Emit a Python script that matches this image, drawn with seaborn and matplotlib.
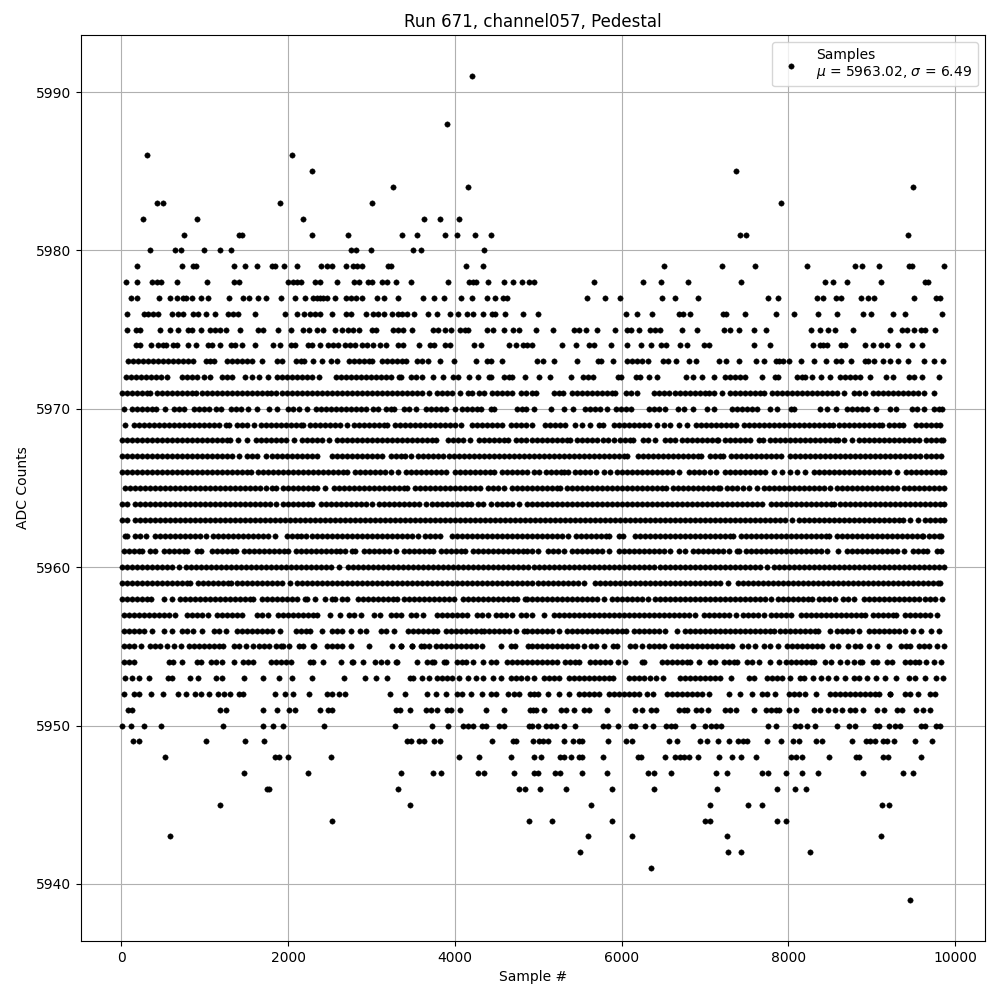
import pandas as pd
import matplotlib
matplotlib.use("Agg")
import matplotlib.pyplot as plt
import seaborn as sns

# sample numbers, one list per ADC count
s5991 = [4208]
s5988 = [3908]
s5986 = [308, 2048]
s5985 = [2288, 7368]
s5984 = [3260, 4160, 9492]
s5983 = [428, 500, 1904, 3008, 7908]
s5982 = [260, 908, 2180, 3632, 3824, 4052]
s5981 = [752, 1412, 1444, 2288, 2720, 3368, 3548, 3884, 4028, 4244, 4436, 7424, 7492, 9432]
s5980 = [344, 644, 720, 992, 1184, 1316, 2756, 2816, 2996, 3500, 3596, 4352]
s5979 = [188, 728, 860, 900, 1352, 1484, 1628, 1800, 1840, 1952, 2108, 2392, 2460, 2520, 2696, 2780, 2828, 2880,
         3200, 3228, 4136, 4340, 6504, 7200, 7596, 8220, 8796, 8880, 9084, 9444, 9484, 9864]
s5978 = [60, 188, 364, 428, 480, 668, 1028, 1352, 1412, 2000, 2060, 2100, 2156, 2320, 2380, 2588, 2792, 2852, 2960,
         3000, 3120, 3188, 3296, 3476, 3920, 4172, 4220, 4252, 4400, 4592, 4700, 4808, 4892, 4952, 5664, 6252, 6468,
         6792, 7428, 8436, 8532, 8700, 9108, 9640, 9676]
s5977 = [120, 188, 452, 584, 668, 740, 772, 848, 960, 1040, 1292, 1460, 1532, 1640, 1736, 1916, 2084, 2200, 2300,
         2340, 2380, 2420, 2460, 2564, 2688, 2748, 2812, 2888, 3060, 3148, 3312, 3620, 3752, 3872, 4076, 4208, 4388,
         4484, 4580, 4628, 5580, 5796, 5976, 6480, 6636, 6912, 7752, 7872, 8340, 8412, 8564, 8632, 8868, 8956, 9024,
         9504, 9768, 9816]
s5976 = [68, 272, 320, 380, 440, 612, 680, 740, 860, 920, 1016, 1124, 1280, 1340, 1400, 1600, 1960, 2100, 2188, 2260,
         2320, 2380, 2528, 2688, 2756, 2936, 3020, 3080, 3148, 3240, 3312, 3360, 3420, 3512, 3680, 3788, 3944, 4040,
         4140, 4216, 4332, 4440, 4480, 4604, 4820, 4992, 6048, 6180, 6360, 6692, 6732, 6816, 7212, 7252, 7476, 7848,
         8064, 8348, 8580, 8892, 8988, 9252, 9400, 9840]
s5975 = [68, 180, 220, 460, 580, 680, 800, 852, 956, 1060, 1120, 1180, 1260, 1424, 1640, 1700, 1880, 2036, 2180, 2252,
         2348, 2420, 2560, 2640, 2720, 2780, 2852, 3000, 3048, 3260, 3320, 3380, 3488, 3732, 3800, 3880, 3952, 4060,
         4120, 4160, 4380, 4460, 4592, 4700, 4772, 4968, 5172, 5432, 5492, 5572, 5700, 5916, 6060, 6112, 6212, 6340,
         6404, 6460, 6720, 6900, 7232, 7304, 7404, 7584, 7728, 8268, 8376, 8472, 8552, 8772, 9216, 9364, 9420, 9504,
         9592, 9640, 9756]
s5974 = [172, 228, 356, 440, 500, 540, 620, 668, 800, 900, 1040, 1092, 1184, 1320, 1360, 1452, 1604, 1820, 1904, 2028,
         2080, 2240, 2280, 2384, 2480, 2540, 2600, 2680, 2740, 2800, 2880, 2940, 3020, 3100, 3168, 3320, 3372, 3572,
         3700, 3752, 3880, 3940, 4232, 4316, 4652, 4736, 4820, 4868, 4920, 5280, 5448, 5612, 5664, 5868, 6060, 6228,
         6348, 6468, 6528, 6696, 6780, 6984, 7044, 7584, 7784, 8292, 8372, 8412, 8460, 8632, 8672, 8916, 9012, 9108,
         9180, 9312, 9480, 9600]
s5973 = [80, 140, 200, 260, 320, 380, 440, 500, 560, 620, 680, 740, 800, 860, 1010, 1060, 1110, 1270, 1330, 1390, 1450,
         1510, 1570, 1680, 1860, 1920, 2090, 2150, 2190, 2300, 2400, 2510, 2590, 2730, 2790, 2850, 2910, 2970, 3010,
         3130, 3190, 3250, 3310, 3370, 3410, 3550, 3600, 3680, 3820, 3992, 4256, 4380, 4428, 4568, 4980, 5052, 5184,
         5460, 5712, 5752, 5892, 6060, 6120, 6180, 6240, 6320, 6492, 6552, 6648, 6804, 6892, 7164, 7252, 7412, 7612,
         7712, 7852, 7892, 7932, 8012, 8148, 8312, 8448, 8564, 8632, 8748, 8912, 8952, 9024, 9132, 9212, 9312, 9432,
         9628, 9744, 9852]
s5972 = [50, 110, 170, 230, 290, 350, 410, 470, 550, 730, 790, 850, 910, 990, 1068, 1210, 1270, 1330, 1480, 1560, 1652,
         1760, 1870, 1930, 1990, 2050, 2110, 2170, 2230, 2290, 2370, 2570, 2630, 2690, 2750, 2810, 2870, 2930, 2990,
         3050, 3110, 3170, 3230, 3330, 3350, 3470, 3530, 3610, 3732, 3856, 3980, 4040, 4172, 4272, 4410, 4430, 4590,
         4650, 4690, 4840, 5012, 5136, 5388, 5540, 5600, 5660, 5952, 5992, 6172, 6220, 6324, 6424, 6772, 6852, 6960,
         7104, 7240, 7300, 7360, 7420, 7480, 7680, 7840, 7880, 8100, 8160, 8200, 8284, 8392, 8496, 8620, 8680, 8740,
         8800, 8860, 8972, 9168, 9252, 9440, 9500, 9600, 9804]
s5971 = [10, 70, 130, 190, 250, 310, 340, 430, 490, 550, 610, 670, 730, 790, 850, 890, 970, 1030, 1090, 1150, 1210,
         1270, 1330, 1390, 1450, 1510, 1570, 1630, 1690, 1750, 1790, 1848, 1930, 1990, 2050, 2110, 2170, 2230, 2290,
         2350, 2410, 2470, 2530, 2590, 2650, 2710, 2770, 2830, 2890, 2950, 3010, 3070, 3130, 3190, 3250, 3310, 3370,
         3430, 3490, 3550, 3610, 3690, 3790, 3850, 3910, 3970, 4060, 4160, 4210, 4290, 4350, 4440, 4510, 4570, 4630,
         4690, 4790, 4850, 4920, 4974, 5182, 5242, 5294, 5402, 5462, 5522, 5582, 5642, 5702, 5762, 5822, 5882, 5922,
         6054, 6114, 6182, 6386, 6446, 6506, 6562, 6642, 6702, 6762, 6822, 6882, 6942, 7002, 7042, 7104, 7204, 7294,
         7354, 7414, 7474, 7534, 7594, 7654, 7702, 7802, 7862, 7922, 7982, 8042, 8102, 8162, 8222, 8282, 8342, 8402,
         8462, 8522, 8582, 8662, 8782, 8842, 8922, 9010, 9070, 9130, 9190, 9250, 9310, 9370, 9430, 9490, 9550, 9622,
         9744]
s5970 = [28, 122, 182, 242, 302, 362, 410, 520, 630, 690, 750, 870, 930, 990, 1050, 1140, 1200, 1310, 1370, 1430, 1520,
         1628, 1768, 1860, 2002, 2062, 2130, 2228, 2330, 2390, 2450, 2510, 2570, 2630, 2690, 2750, 2810, 2870, 2930,
         3020, 3080, 3170, 3230, 3270, 3390, 3450, 3530, 3650, 3710, 3770, 3830, 3890, 4004, 4090, 4150, 4210, 4270,
         4310, 4430, 4470, 4742, 4802, 4850, 4944, 5148, 5312, 5412, 5562, 5622, 5682, 5742, 5822, 5930, 5990, 6050,
         6110, 6322, 6382, 6442, 6522, 6672, 6752, 6852, 7022, 7102, 7322, 7382, 7442, 7502, 7562, 7622, 7774, 7862,
         8034, 8062, 8382, 8462, 8572, 8702, 8762, 8822, 8882, 8942, 9052, 9212, 9292, 9482, 9542, 9622, 9742, 9802,
         9842]
s5969 = [48, 150, 210, 270, 330, 390, 450, 510, 570, 630, 690, 750, 810, 870, 930, 990, 1050, 1110, 1170, 1250, 1290,
         1390, 1450, 1510, 1590, 1670, 1730, 1790, 1850, 1910, 1970, 2030, 2090, 2150, 2182, 2258, 2318, 2378, 2438,
         2498, 2558, 2618, 2710, 2790, 2850, 2910, 2970, 3030, 3090, 3150, 3190, 3282, 3342, 3402, 3462, 3522, 3582,
         3642, 3702, 3762, 3822, 3882, 3942, 4002, 4078, 4202, 4262, 4322, 4382, 4442, 4502, 4570, 4670, 4730, 4790,
         4850, 4922, 5074, 5134, 5194, 5254, 5322, 5442, 5522, 5620, 5722, 5774, 5902, 5962, 6022, 6082, 6142, 6202,
         6262, 6322, 6422, 6502, 6582, 6682, 6782, 6890, 6950, 7010, 7070, 7130, 7190, 7250, 7310, 7374, 7462, 7522,
         7582, 7642, 7702, 7762, 7822, 7882, 7942, 8002, 8062, 8122, 8182, 8242, 8302, 8362, 8422, 8482, 8534, 8610,
         8670, 8730, 8790, 8850, 8910, 8970, 9030, 9090, 9122, 9202, 9262, 9322, 9374, 9530, 9590, 9650, 9710, 9770,
         9822]
s5968 = [10, 70, 130, 190, 250, 310, 370, 430, 490, 550, 610, 662, 730, 790, 850, 910, 970, 1030, 1090, 1150, 1210,
         1270, 1302, 1402, 1510, 1618, 1678, 1738, 1798, 1858, 1918, 1978, 2070, 2162, 2222, 2282, 2342, 2402, 2490,
         2590, 2650, 2710, 2770, 2830, 2890, 2950, 3010, 3070, 3130, 3190, 3250, 3310, 3370, 3430, 3490, 3550, 3610,
         3670, 3730, 3778, 3922, 3982, 4042, 4102, 4182, 4290, 4350, 4410, 4470, 4530, 4590, 4638, 4730, 4790, 4850,
         4922, 4982, 5042, 5102, 5162, 5222, 5282, 5342, 5382, 5462, 5522, 5582, 5642, 5702, 5774, 5834, 5902, 5982,
         6042, 6102, 6134, 6254, 6310, 6404, 6514, 6574, 6634, 6722, 6782, 6842, 6902, 6962, 7022, 7082, 7142, 7158,
         7234, 7294, 7354, 7414, 7474, 7534, 7650, 7690, 7782, 7842, 7902, 7962, 8022, 8082, 8142, 8202, 8262, 8322,
         8382, 8442, 8502, 8562, 8590, 8670, 8762, 8850, 8910, 8970, 9030, 9090, 9150, 9210, 9270, 9330, 9390, 9450,
         9510, 9566, 9654, 9714, 9774, 9834, 9854]
s5967 = [10, 70, 130, 190, 250, 310, 370, 430, 490, 550, 610, 670, 730, 790, 850, 910, 970, 1030, 1090, 1150, 1210,
         1270, 1330, 1410, 1510, 1570, 1630, 1730, 1810, 1870, 1930, 1990, 2050, 2110, 2170, 2230, 2290, 2350, 2522,
         2582, 2642, 2702, 2762, 2822, 2882, 2942, 3002, 3062, 3130, 3230, 3290, 3350, 3398, 3468, 3562, 3622, 3682,
         3742, 3802, 3854, 3930, 3990, 4050, 4110, 4170, 4230, 4290, 4350, 4410, 4470, 4530, 4590, 4650, 4710, 4770,
         4830, 4890, 4950, 5010, 5070, 5130, 5190, 5250, 5310, 5370, 5430, 5490, 5550, 5610, 5670, 5730, 5790, 5850,
         5910, 5970, 6030, 6062, 6194, 6254, 6314, 6374, 6434, 6494, 6554, 6614, 6674, 6734, 6794, 6854, 6914, 6950,
         7062, 7122, 7182, 7214, 7314, 7374, 7434, 7494, 7554, 7614, 7674, 7734, 7794, 7854, 7910, 8022, 8082, 8142,
         8202, 8262, 8322, 8382, 8442, 8502, 8562, 8622, 8682, 8742, 8802, 8862, 8922, 8982, 9042, 9102, 9162, 9222,
         9282, 9342, 9402, 9462, 9522, 9574, 9654, 9714, 9774, 9830]
s5966 = [10, 70, 130, 190, 250, 310, 370, 430, 490, 550, 610, 670, 730, 790, 850, 910, 970, 1030, 1090, 1150, 1210,
         1270, 1330, 1390, 1450, 1510, 1550, 1642, 1702, 1762, 1822, 1882, 1942, 2002, 2062, 2122, 2182, 2242, 2302,
         2362, 2422, 2482, 2542, 2602, 2662, 2710, 2798, 2858, 2918, 2978, 3038, 3098, 3158, 3238, 3320, 3410, 3470,
         3530, 3590, 3650, 3710, 3770, 3830, 3894, 3998, 4058, 4118, 4178, 4238, 4298, 4358, 4418, 4470, 4562, 4622,
         4682, 4742, 4802, 4862, 4942, 5002, 5090, 5150, 5210, 5270, 5302, 5360, 5442, 5502, 5562, 5622, 5690, 5782,
         5862, 5942, 6002, 6062, 6122, 6182, 6242, 6302, 6362, 6422, 6482, 6542, 6602, 6682, 6810, 6870, 6930, 6982,
         7060, 7132, 7242, 7302, 7362, 7422, 7482, 7542, 7602, 7662, 7722, 7822, 7922, 8022, 8100, 8196, 8302, 8362,
         8422, 8482, 8542, 8602, 8662, 8722, 8782, 8842, 8902, 8962, 9022, 9082, 9142, 9202, 9302, 9410, 9470, 9530,
         9590, 9650, 9710, 9770, 9830, 9862]
s5965 = [42, 102, 162, 222, 282, 342, 402, 462, 522, 582, 642, 702, 762, 822, 882, 942, 1002, 1062, 1122, 1182, 1242,
         1302, 1362, 1422, 1482, 1542, 1602, 1662, 1730, 1800, 1852, 1938, 1998, 2058, 2118, 2178, 2238, 2298, 2350,
         2440, 2550, 2610, 2670, 2730, 2790, 2850, 2910, 2970, 3030, 3090, 3150, 3210, 3270, 3330, 3390, 3430, 3522,
         3582, 3642, 3702, 3762, 3822, 3882, 3942, 4002, 4062, 4122, 4182, 4242, 4302, 4402, 4462, 4522, 4590, 4690,
         4750, 4810, 4870, 4922, 4982, 5042, 5102, 5162, 5222, 5262, 5342, 5402, 5462, 5522, 5582, 5642, 5702, 5762,
         5822, 5882, 5942, 6002, 6062, 6122, 6182, 6242, 6302, 6362, 6422, 6482, 6530, 6610, 6670, 6730, 6790, 6850,
         6910, 6970, 7030, 7090, 7150, 7182, 7262, 7322, 7382, 7454, 7530, 7622, 7702, 7762, 7822, 7882, 7942, 8002,
         8062, 8122, 8182, 8242, 8302, 8362, 8422, 8494, 8582, 8642, 8702, 8762, 8822, 8882, 8942, 9002, 9062, 9122,
         9182, 9242, 9302, 9390, 9450, 9510, 9570, 9630, 9690, 9750, 9810, 9862]
s5964 = [10, 70, 162, 222, 282, 342, 402, 462, 522, 582, 642, 702, 762, 822, 882, 942, 1002, 1062, 1122, 1182, 1242,
         1302, 1362, 1422, 1482, 1542, 1602, 1662, 1722, 1782, 1850, 1938, 1998, 2058, 2118, 2178, 2238, 2290, 2390,
         2450, 2510, 2570, 2630, 2690, 2750, 2810, 2870, 2930, 3000, 3090, 3150, 3210, 3270, 3330, 3390, 3450, 3510,
         3570, 3650, 3730, 3790, 3850, 3910, 3970, 4030, 4090, 4150, 4198, 4282, 4342, 4430, 4510, 4570, 4630, 4690,
         4770, 4870, 4922, 4982, 5042, 5102, 5162, 5222, 5282, 5342, 5402, 5462, 5522, 5582, 5642, 5702, 5762, 5822,
         5882, 5942, 6002, 6062, 6122, 6182, 6242, 6302, 6362, 6422, 6482, 6542, 6602, 6662, 6722, 6782, 6842, 6902,
         6962, 7022, 7082, 7142, 7202, 7262, 7322, 7382, 7442, 7502, 7562, 7622, 7682, 7794, 7854, 7914, 7974, 8034,
         8094, 8154, 8214, 8274, 8334, 8394, 8454, 8514, 8550, 8622, 8682, 8742, 8802, 8862, 8922, 8982, 9042, 9102,
         9162, 9222, 9282, 9342, 9402, 9462, 9522, 9582, 9642, 9702, 9762, 9822, 9862]
s5963 = [10, 70, 162, 222, 282, 342, 402, 462, 522, 582, 642, 702, 762, 822, 882, 942, 1002, 1062, 1122, 1182, 1242,
         1302, 1362, 1422, 1482, 1542, 1602, 1662, 1722, 1782, 1842, 1902, 1962, 2022, 2082, 2142, 2202, 2262, 2322,
         2382, 2442, 2502, 2562, 2622, 2682, 2742, 2802, 2862, 2922, 2982, 3042, 3102, 3162, 3222, 3282, 3342, 3402,
         3462, 3522, 3582, 3642, 3702, 3762, 3822, 3882, 3942, 4002, 4062, 4122, 4182, 4242, 4302, 4362, 4422, 4482,
         4542, 4602, 4662, 4722, 4782, 4842, 4902, 4962, 5022, 5082, 5142, 5202, 5262, 5322, 5382, 5442, 5502, 5562,
         5622, 5682, 5742, 5802, 5862, 5922, 5982, 6042, 6102, 6162, 6222, 6282, 6342, 6402, 6462, 6522, 6582, 6642,
         6702, 6762, 6822, 6882, 6942, 7002, 7062, 7122, 7182, 7242, 7302, 7362, 7422, 7482, 7542, 7602, 7662, 7722,
         7782, 7842, 7902, 7962, 8042, 8122, 8182, 8242, 8302, 8362, 8422, 8482, 8542, 8602, 8662, 8722, 8782, 8842,
         8902, 8962, 9022, 9082, 9142, 9202, 9262, 9322, 9370, 9462, 9550, 9634, 9694, 9754, 9814, 9862]
s5962 = [42, 70, 162, 222, 298, 398, 458, 518, 578, 638, 698, 758, 818, 878, 938, 1018, 1102, 1162, 1222, 1282, 1342,
         1402, 1462, 1522, 1582, 1642, 1702, 1762, 1842, 1982, 2042, 2102, 2150, 2212, 2282, 2342, 2402, 2462, 2522,
         2582, 2642, 2702, 2762, 2822, 2882, 2942, 3002, 3062, 3122, 3182, 3242, 3302, 3362, 3422, 3490, 3560, 3642,
         3702, 3762, 3822, 3970, 4030, 4090, 4150, 4210, 4270, 4330, 4390, 4450, 4510, 4570, 4630, 4690, 4750, 4810,
         4870, 4922, 4982, 5042, 5102, 5162, 5222, 5282, 5350, 5450, 5510, 5570, 5630, 5690, 5750, 5810, 5842, 5970,
         6014, 6162, 6222, 6282, 6342, 6402, 6462, 6522, 6582, 6642, 6702, 6762, 6822, 6882, 6942, 7002, 7062, 7122,
         7182, 7242, 7302, 7334, 7434, 7494, 7554, 7614, 7674, 7734, 7794, 7854, 7914, 7974, 8034, 8094, 8154, 8214,
         8274, 8334, 8394, 8454, 8482, 8582, 8642, 8702, 8762, 8822, 8882, 8942, 9002, 9062, 9122, 9182, 9242, 9302,
         9362, 9422, 9482, 9542, 9602, 9614, 9690, 9750, 9810, 9834]
s5961 = [30, 90, 150, 210, 250, 338, 402, 510, 570, 630, 690, 750, 790, 902, 958, 1090, 1150, 1210, 1270, 1330, 1380,
         1470, 1530, 1590, 1650, 1710, 1770, 1830, 1890, 1950, 1998, 2098, 2158, 2218, 2278, 2338, 2398, 2458, 2518,
         2578, 2622, 2684, 2762, 2798, 2910, 2970, 3030, 3090, 3150, 3210, 3298, 3390, 3450, 3510, 3570, 3630, 3690,
         3742, 3830, 3890, 3950, 4010, 4070, 4122, 4222, 4282, 4342, 4402, 4462, 4522, 4582, 4642, 4702, 4762, 4822,
         4870, 4922, 4990, 5114, 5174, 5234, 5302, 5402, 5462, 5522, 5582, 5642, 5702, 5762, 5842, 5970, 6030, 6090,
         6150, 6210, 6270, 6330, 6390, 6450, 6510, 6582, 6690, 6754, 6854, 6914, 6974, 7034, 7094, 7154, 7214, 7282,
         7382, 7402, 7490, 7550, 7610, 7670, 7730, 7790, 7850, 7910, 7970, 8030, 8090, 8150, 8210, 8270, 8330, 8390,
         8462, 8592, 8702, 8762, 8822, 8882, 8942, 9002, 9062, 9122, 9182, 9242, 9302, 9382, 9494, 9554, 9614, 9662,
         9782, 9834]
s5960 = [10, 70, 130, 190, 250, 310, 370, 430, 490, 550, 610, 690, 778, 838, 898, 958, 1018, 1078, 1138, 1198, 1258,
         1318, 1378, 1438, 1498, 1558, 1618, 1678, 1738, 1798, 1858, 1918, 1978, 2038, 2098, 2158, 2218, 2278, 2338,
         2398, 2458, 2518, 2610, 2722, 2782, 2842, 2902, 2962, 3022, 3082, 3142, 3202, 3262, 3322, 3382, 3442, 3502,
         3562, 3622, 3682, 3742, 3802, 3862, 3922, 3982, 4042, 4102, 4162, 4222, 4282, 4342, 4402, 4462, 4522, 4582,
         4642, 4702, 4762, 4822, 4882, 4942, 5002, 5062, 5122, 5182, 5242, 5302, 5362, 5422, 5482, 5542, 5602, 5662,
         5722, 5782, 5842, 5902, 5962, 6022, 6082, 6142, 6202, 6262, 6322, 6382, 6462, 6522, 6582, 6642, 6702, 6762,
         6822, 6882, 6942, 7002, 7062, 7122, 7182, 7242, 7302, 7362, 7422, 7482, 7542, 7602, 7662, 7742, 7830, 7890,
         7950, 8010, 8070, 8130, 8190, 8250, 8310, 8370, 8430, 8490, 8550, 8610, 8670, 8730, 8790, 8850, 8910, 8970,
         9030, 9090, 9150, 9210, 9270, 9330, 9390, 9450, 9510, 9570, 9630, 9690, 9750, 9810, 9862]
s5959 = [10, 70, 130, 190, 250, 310, 370, 430, 490, 550, 610, 670, 730, 790, 822, 922, 982, 1042, 1102, 1162, 1222,
         1282, 1318, 1390, 1450, 1510, 1570, 1630, 1690, 1750, 1810, 1870, 1930, 2022, 2110, 2170, 2230, 2290, 2350,
         2410, 2470, 2530, 2590, 2650, 2710, 2770, 2830, 2890, 2950, 3010, 3070, 3130, 3190, 3250, 3310, 3370, 3430,
         3490, 3550, 3610, 3670, 3730, 3790, 3850, 3910, 3970, 4030, 4090, 4150, 4210, 4270, 4330, 4390, 4450, 4510,
         4570, 4630, 4690, 4750, 4810, 4870, 4930, 4990, 5050, 5110, 5170, 5230, 5290, 5350, 5410, 5470, 5550, 5682,
         5742, 5802, 5862, 5922, 5982, 6042, 6102, 6162, 6222, 6282, 6342, 6402, 6462, 6522, 6582, 6642, 6702, 6762,
         6822, 6882, 6942, 7002, 7062, 7122, 7182, 7274, 7394, 7454, 7514, 7574, 7634, 7694, 7754, 7814, 7874, 7934,
         7994, 8054, 8114, 8174, 8234, 8294, 8354, 8414, 8474, 8534, 8594, 8654, 8714, 8774, 8834, 8894, 8954, 9014,
         9074, 9134, 9194, 9254, 9314, 9374, 9434, 9494, 9554, 9614, 9674, 9734, 9794, 9822]
s5958 = [10, 70, 130, 190, 250, 310, 350, 510, 610, 698, 758, 818, 878, 938, 998, 1058, 1118, 1178, 1238, 1298, 1358,
         1418, 1478, 1538, 1582, 1682, 1742, 1802, 1862, 1922, 1982, 2042, 2110, 2198, 2230, 2318, 2438, 2530, 2558,
         2650, 2710, 2838, 2898, 2958, 3018, 3078, 3138, 3198, 3258, 3310, 3390, 3450, 3510, 3570, 3630, 3690, 3750,
         3810, 3870, 3930, 3990, 4098, 4158, 4218, 4278, 4338, 4398, 4458, 4518, 4578, 4638, 4698, 4742, 4842, 4870,
         4922, 4982, 5042, 5102, 5162, 5222, 5282, 5342, 5402, 5462, 5522, 5582, 5642, 5702, 5790, 5882, 5942, 6002,
         6062, 6122, 6182, 6242, 6310, 6402, 6462, 6522, 6582, 6642, 6702, 6762, 6822, 6882, 6942, 7002, 7062, 7122,
         7182, 7242, 7302, 7362, 7422, 7482, 7542, 7602, 7662, 7722, 7790, 7874, 7934, 7994, 8054, 8114, 8174, 8234,
         8282, 8370, 8430, 8490, 8562, 8650, 8710, 8782, 8910, 8970, 9030, 9090, 9150, 9210, 9270, 9330, 9390, 9450,
         9510, 9566, 9642, 9702, 9762, 9842]
s5957 = [30, 90, 150, 210, 270, 330, 390, 450, 510, 570, 642, 790, 850, 910, 970, 1042, 1150, 1210, 1270, 1330, 1390,
         1442, 1622, 1682, 1758, 1882, 1942, 2002, 2062, 2122, 2182, 2242, 2302, 2350, 2500, 2620, 2730, 2790, 2870,
         3030, 3098, 3230, 3290, 3358, 3470, 3530, 3622, 3790, 3850, 3910, 3970, 4030, 4090, 4150, 4270, 4330, 4398,
         4490, 4550, 4610, 4690, 4790, 4850, 4922, 5062, 5190, 5250, 5310, 5370, 5430, 5490, 5550, 5610, 5670, 5730,
         5790, 5850, 5910, 5970, 6030, 6090, 6150, 6210, 6270, 6330, 6390, 6450, 6510, 6570, 6630, 6690, 6750, 6810,
         6882, 6990, 7050, 7110, 7170, 7230, 7290, 7374, 7454, 7514, 7574, 7634, 7702, 7794, 7854, 7914, 7974, 8030,
         8154, 8214, 8274, 8334, 8394, 8454, 8514, 8574, 8634, 8694, 8754, 8814, 8874, 8922, 9010, 9070, 9130, 9190,
         9250, 9294, 9402, 9462, 9522, 9582, 9642, 9702, 9782]
s5956 = [30, 90, 150, 210, 270, 370, 510, 610, 722, 782, 862, 972, 1110, 1170, 1250, 1390, 1450, 1510, 1570, 1630, 1690,
         1750, 1810, 1902, 2090, 2150, 2210, 2258, 2408, 2530, 2590, 2650, 2750, 2858, 2938, 3110, 3170, 3270, 3442,
         3502, 3562, 3622, 3682, 3742, 3790, 3890, 3950, 4010, 4070, 4130, 4190, 4250, 4310, 4350, 4410, 4470, 4530,
         4590, 4650, 4730, 4830, 4870, 4922, 4982, 5042, 5102, 5162, 5250, 5342, 5402, 5462, 5522, 5582, 5642, 5702,
         5762, 5822, 5882, 5942, 6002, 6054, 6142, 6202, 6262, 6322, 6382, 6442, 6522, 6662, 6762, 6822, 6882, 6942,
         7002, 7062, 7122, 7182, 7242, 7302, 7362, 7422, 7482, 7542, 7602, 7662, 7722, 7782, 7822, 7902, 7962, 8022,
         8082, 8142, 8202, 8262, 8322, 8354, 8492, 8582, 8642, 8702, 8762, 8850, 8962, 9022, 9082, 9142, 9202, 9262,
         9322, 9402, 9494, 9590, 9710, 9802]
s5955 = [30, 90, 150, 230, 342, 400, 458, 552, 630, 718, 810, 870, 930, 990, 1050, 1110, 1170, 1222, 1350, 1410, 1490,
         1572, 1650, 1710, 1770, 1850, 1910, 1942, 2012, 2130, 2182, 2298, 2310, 2470, 2530, 2590, 2650, 2752, 2968,
         3240, 3350, 3358, 3482, 3490, 3590, 3630, 3692, 3770, 3830, 3890, 3950, 4010, 4070, 4130, 4190, 4250, 4330,
         4548, 4668, 4724, 4872, 4922, 4982, 5042, 5102, 5162, 5222, 5282, 5342, 5402, 5462, 5542, 5634, 5694, 5790,
         5890, 5942, 6102, 6162, 6242, 6322, 6382, 6442, 6502, 6602, 6662, 6722, 6782, 6842, 6902, 6962, 7022, 7082,
         7142, 7202, 7262, 7322, 7442, 7510, 7602, 7702, 7780, 7872, 7982, 8042, 8102, 8162, 8222, 8282, 8342, 8402,
         8522, 8590, 8712, 8794, 8854, 8962, 9064, 9200, 9350, 9410, 9462, 9562, 9622, 9682, 9780, 9864]
s5954 = [30, 90, 150, 570, 622, 732, 902, 958, 1078, 1138, 1210, 1352, 1460, 1520, 1572, 1790, 1850, 1910, 1970, 2030,
         2258, 2302, 2412, 2628, 2762, 2782, 2900, 3036, 3108, 3180, 3290, 3310, 3548, 3662, 3722, 3750, 3870, 3890,
         4030, 4090, 4130, 4220, 4332, 4430, 4490, 4630, 4690, 4750, 4810, 4870, 4922, 4982, 5042, 5102, 5162, 5222,
         5322, 5382, 5442, 5482, 5622, 5682, 5742, 5802, 5854, 5952, 6044, 6242, 6262, 6482, 6542, 6602, 6662, 6722,
         6782, 6822, 6932, 7062, 7122, 7222, 7282, 7342, 7382, 7502, 7562, 7642, 7782, 7882, 7970, 8030, 8090, 8150,
         8210, 8270, 8310, 8442, 8510, 8622, 8702, 8784, 8862, 8882, 9010, 9062, 9182, 9242, 9394, 9454, 9514, 9562,
         9644, 9740, 9832]
s5953 = [40, 128, 212, 332, 560, 612, 824, 920, 1136, 1208, 1472, 1700, 1892, 2048, 2288, 2672, 2920, 3056, 3188, 3460,
         3500, 3600, 3692, 3790, 3850, 3910, 3970, 4052, 4160, 4248, 4340, 4460, 4552, 4670, 4730, 4790, 4870, 4952,
         5062, 5122, 5182, 5242, 5362, 5422, 5482, 5542, 5602, 5662, 5722, 5782, 5842, 5894, 6082, 6142, 6202, 6262,
         6342, 6412, 6492, 6702, 6762, 6822, 6882, 6942, 7002, 7062, 7122, 7182, 7308, 7522, 7582, 7742, 7802, 7862,
         7922, 8022, 8142, 8182, 8300, 8392, 8472, 8572, 8676, 8782, 8842, 8942, 9052, 9156, 9292, 9442, 9522, 9632,
         9764, 9852]
s5952 = [32, 150, 210, 356, 500, 680, 770, 888, 960, 1052, 1160, 1232, 1304, 1410, 1458, 1844, 1964, 2060, 2252, 2468,
         2528, 2612, 2684, 3224, 3404, 3660, 3776, 3896, 4028, 4088, 4196, 4324, 4428, 4488, 4640, 4712, 4768, 4900,
         4952, 4992, 5112, 5252, 5364, 5482, 5542, 5602, 5662, 5722, 5842, 5902, 5962, 6022, 6082, 6142, 6202, 6300,
         6380, 6542, 6602, 6662, 6722, 6782, 6842, 6902, 6962, 7052, 7292, 7420, 7564, 7682, 7742, 7842, 8002, 8062,
         8122, 8202, 8332, 8502, 8562, 8622, 8682, 8742, 8802, 8862, 8922, 8982, 9042, 9082, 9214, 9222, 9402, 9462,
         9552, 9702, 9762]
s5951 = [80, 128, 1184, 1256, 1700, 1868, 2004, 2084, 2384, 2480, 2528, 3296, 3340, 3464, 3656, 3712, 3780, 3900, 3952,
         4064, 4368, 4584, 4900, 4932, 4972, 5064, 5272, 5332, 5424, 5552, 5612, 5820, 6156, 6240, 6352, 6412, 6682,
         6742, 6782, 6892, 6956, 7036, 7240, 7296, 7368, 7584, 7734, 7794, 7854, 7882, 8004, 8088, 8304, 8376, 8472,
         8556, 8640, 8732, 8792, 8892, 9060, 9140, 9300, 9356, 9532, 9612, 9700]
s5950 = [8, 116, 272, 476, 1220, 1700, 1820, 1940, 2432, 3284, 3728, 3920, 4100, 4152, 4220, 4320, 4368, 4532, 4588,
         4892, 4920, 4992, 5092, 5152, 5212, 5312, 5436, 5772, 5832, 5952, 6112, 6164, 6276, 6372, 6532, 6592, 6640,
         6852, 7000, 7072, 7132, 7192, 7760, 7852, 8080, 8140, 8220, 8316, 8580, 8724, 8792, 9032, 9080, 9204, 9280,
         9340, 9592, 9640, 9772, 9820]
s5949 = [140, 212, 1016, 1484, 1712, 3428, 3468, 3572, 3628, 3752, 3824, 4440, 4692, 4732, 4932, 5012, 5052, 5112, 5312,
         5412, 5492, 5524, 5840, 6048, 6120, 6564, 6660, 6944, 7020, 7152, 7284, 7392, 7452, 7500, 7740, 7912, 8052,
         8124, 8332, 8396, 8760, 8924, 8980, 9040, 9132, 9180, 9264, 9516, 9720]
s5948 = [524, 1840, 1888, 2000, 2516, 4052, 4284, 4676, 4944, 5032, 5260, 5304, 5388, 5492, 5524, 5772, 6192, 6232,
         6520, 6644, 6700, 6752, 6808, 6912, 7164, 7320, 7428, 7608, 8028, 8092, 8164, 8484, 8804, 8844, 9132, 9192,
         9588]
s5947 = [1472, 2240, 3356, 3740, 3836, 4280, 4352, 4712, 4944, 4992, 5204, 5260, 5520, 5820, 6312, 6392, 6588, 7128,
         7260, 7680, 7752, 7968, 8160, 8352, 8892, 9372, 9492]
s5946 = [1740, 1764, 3320, 4772, 4844, 5016, 5328, 5880, 6384, 7140, 7860, 8076, 8208]
s5945 = [1184, 3464, 5628, 7056, 7512, 7680, 9120, 9204]
s5944 = [2528, 4892, 5160, 5880, 7000, 7056, 7860, 7968]
s5943 = [584, 5592, 6120, 7260, 9108]
s5942 = [5496, 7272, 7428, 8256]
s5941 = [6348]
s5939 = [9456]

adc_levels = [5991, 5988, 5986, 5985, 5984, 5983, 5982, 5981, 5980, 5979, 5978, 5977, 5976, 5975, 5974, 5973, 5972,
              5971, 5970, 5969, 5968, 5967, 5966, 5965, 5964, 5963, 5962, 5961, 5960, 5959, 5958, 5957, 5956, 5955,
              5954, 5953, 5952, 5951, 5950, 5949, 5948, 5947, 5946, 5945, 5944, 5943, 5942, 5941, 5939]
samples_per_level = [s5991, s5988, s5986, s5985, s5984, s5983, s5982, s5981, s5980, s5979, s5978, s5977, s5976, s5975,
                     s5974, s5973, s5972, s5971, s5970, s5969, s5968, s5967, s5966, s5965, s5964, s5963, s5962, s5961,
                     s5960, s5959, s5958, s5957, s5956, s5955, s5954, s5953, s5952, s5951, s5950, s5949, s5948, s5947,
                     s5946, s5945, s5944, s5943, s5942, s5941, s5939]

mean_adc = 5963.02
std_adc = 6.49

df = pd.DataFrame(
    [(s, adc) for adc, samples in zip(adc_levels, samples_per_level) for s in samples],
    columns=["sample", "adc"],
)

fig, ax = plt.subplots(figsize=(10, 10))

label = "Samples\n$\\mu$ = %.2f, $\\sigma$ = %.2f" % (mean_adc, std_adc)
sns.scatterplot(data=df, x="sample", y="adc", color="k", s=15, linewidth=0.3, edgecolor="k", label=label, ax=ax)

ax.set_xlabel("Sample #")
ax.set_ylabel("ADC Counts")
ax.set_title("Run 671, channel057, Pedestal")
ax.grid(True)
ax.set_axisbelow(True)
ax.legend(loc="upper right")

fig.subplots_adjust(left=0.081, right=0.985, top=0.965, bottom=0.059)
plt.savefig("out.png", dpi=100)
